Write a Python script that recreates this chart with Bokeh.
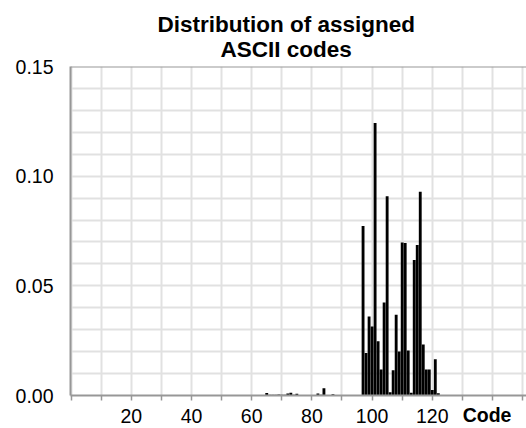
from bokeh.plotting import figure
from bokeh.models import (Range1d, FixedTicker, Span, Title, LinearAxis,
                          NumeralTickFormatter)
from bokeh.embed import file_html
from bokeh.resources import INLINE

# ---- data: relative frequency of each assigned ASCII code ----
codes = [65, 66, 67, 68, 69, 70, 71, 72, 73, 74, 75, 76, 77, 78, 79, 80, 81, 82, 83, 84, 85, 86, 87,
         97, 98, 99, 100, 101, 102, 103, 104, 105, 106, 107, 108, 109, 110, 111, 112, 113,
         114, 115, 116, 117, 118, 119, 120, 121, 122]
freqs = [0.0011, 0.0003, 0.0003, 0.0003, 0.0005, 0.0003, 0.0003, 0.0009, 0.0012, 0.0003, 0.0008,
         0.0002, 0.0002, 0.0002, 0.0002, 0.0002, 0.0002, 0.0009, 0.0003, 0.0033, 0.0, 0.0, 0.0006,
         0.0773, 0.0194, 0.0360, 0.0315, 0.1242, 0.0247, 0.0118, 0.0424, 0.0909, 0.0015, 0.0115,
         0.0368, 0.0201, 0.0697, 0.0695, 0.0205, 0.0012, 0.0618, 0.0686, 0.0929, 0.0232, 0.0118,
         0.0118, 0.0025, 0.0165, 0.0010]

x_ticks = [0, 10, 20, 30, 40, 50, 60, 70, 80, 90, 100, 110, 120, 130, 140, 150]
x_labels = {0: "", 10: "", 20: "20", 30: "", 40: "40", 50: "", 60: "60", 70: "", 80: "80",
            90: "", 100: "100", 110: "", 120: "120", 130: "", 140: "", 150: ""}
y_ticks = [0.0, 0.05, 0.10, 0.15]
y_grid = [0.01, 0.02, 0.03, 0.04, 0.05, 0.06, 0.07, 0.08, 0.09, 0.10, 0.11, 0.12, 0.13, 0.14]
title_lines = ["Distribution of assigned", "ASCII codes"]
x_title = "Code"
x_title_at = 138.2

FONT = "Liberation Sans"
AXIS_GRAY = "#979797"
GRID_GRAY = "#e1e1e1"

p = figure(width=526, height=428, output_backend="svg", toolbar_location=None, title=None,
           x_range=Range1d(-0.2, 151.3), y_range=Range1d(0, 0.15),
           min_border_left=70, min_border_right=0, min_border_top=66, min_border_bottom=32)

# two title lines (the one added first sits nearest the frame)
p.add_layout(Title(text=title_lines[1], align="left", offset=150, text_font=FONT,
                   text_font_size="22.5px", text_font_style="bold", text_color="black",
                   standoff=10), "above")
p.add_layout(Title(text=title_lines[0], align="left", offset=87, text_font=FONT,
                   text_font_size="22.5px", text_font_style="bold", text_color="black",
                   standoff=-15), "above")

p.outline_line_color = None
p.background_fill_color = "white"
p.border_fill_color = "white"

# grid
p.xgrid.ticker = FixedTicker(ticks=x_ticks)
p.ygrid.ticker = FixedTicker(ticks=y_grid)
p.xgrid.grid_line_color = GRID_GRAY
p.ygrid.grid_line_color = GRID_GRAY
p.xgrid.grid_line_width = 2
p.ygrid.grid_line_width = 2

# bars
p.vbar(x=codes, top=freqs, width=0.95, fill_color="black", line_color=None)

# top frame line
p.add_layout(Span(location=0.15, dimension="width", line_color=AXIS_GRAY, line_width=2))

# x axis
xa = p.xaxis[0]
xa.ticker = FixedTicker(ticks=x_ticks)
xa.major_label_overrides = x_labels
xa.axis_line_color = AXIS_GRAY
xa.axis_line_width = 2
xa.major_tick_line_color = AXIS_GRAY
xa.major_tick_line_width = 1.5
xa.major_tick_in = 0
xa.major_tick_out = 5
xa.minor_tick_line_color = None
xa.major_label_standoff = 8
xa.major_label_text_font = FONT
xa.major_label_text_font_size = "19.5px"
xa.major_label_text_color = "black"

# second bottom axis carrying only the bold axis title, pulled up onto the label row
xt = LinearAxis(ticker=FixedTicker(ticks=[x_title_at]),
                major_label_overrides={x_title_at: x_title})
xt.axis_line_color = None
xt.major_tick_line_color = None
xt.minor_tick_line_color = None
xt.major_tick_in = 0
xt.major_tick_out = 0
xt.major_label_standoff = -22
xt.major_label_text_font = FONT
xt.major_label_text_font_size = "19.5px"
xt.major_label_text_font_style = "bold"
xt.major_label_text_color = "black"
p.add_layout(xt, "below")

# y axis
ya = p.yaxis[0]
ya.ticker = FixedTicker(ticks=y_ticks)
ya.formatter = NumeralTickFormatter(format="0.00")
ya.axis_line_color = AXIS_GRAY
ya.axis_line_width = 2
ya.major_tick_line_color = None
ya.major_tick_in = 0
ya.major_tick_out = 0
ya.minor_tick_line_color = None
ya.major_label_standoff = 17
ya.major_label_text_font = FONT
ya.major_label_text_font_size = "19.5px"
ya.major_label_text_color = "black"

open("out.html", "w").write(file_html(p, INLINE))
